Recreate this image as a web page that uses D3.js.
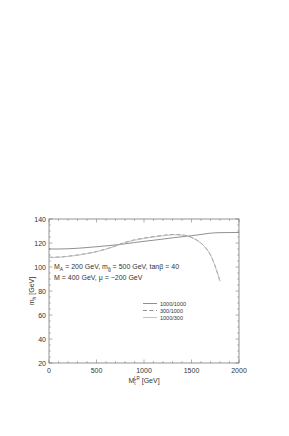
<!DOCTYPE html>
<html>
<head>
<meta charset="UTF-8">
<script src="https://cdn.jsdelivr.net/npm/d3@7"></script>
<style>
  body { margin: 0; background: #fff; }
  text { font-family: "Liberation Sans", Arial, sans-serif; fill: #333; }
</style>
</head>
<body>
<script>
// stop mixing parameter M_t^LR [GeV]
var xFull = [0,100,200,300,400,500,600,700,800,900,1000,1100,1200,1300,1400,1500,1600,1700,1800,1900,2000];
var xCut  = [0,100,200,300,400,500,600,700,800,900,1000,1100,1200,1300,1350,1400,1450,1500,1550,1600,1650,1700,1750,1800];
// m_h [GeV]
var mh1000_1000 = [115,115,115.2,115.6,116.2,116.9,117.6,118.4,119.3,120.4,121.4,122.3,123.3,124.3,125.2,126.1,127.1,128.2,128.6,128.7,128.8];
var mh300_1000  = [108.1,108.3,109,110,111.3,112.9,115,117.6,120.5,122.6,124.1,125.3,126.3,127.1,127.1,126.8,126.1,124.7,122.7,120,116,110,100.5,88];
var mh1000_300  = [107.9,108.1,108.8,109.8,111.1,112.7,114.8,117.4,120.2,122.3,123.8,125,126,126.8,126.8,126.5,125.8,124.5,122.5,119.8,115.8,109.8,100.3,88];
var yTicks = [20,40,60,80,100,120,140];
var xTicks = [0,500,1000,1500,2000];
var legendNames = ["1000/1000","300/1000","1000/300"];

var W = 289, H = 436;
var svg = d3.select("body").append("svg").attr("width", W).attr("height", H);
var pL = 49, pR = 239, pT = 219, pB = 363;

var x = d3.scaleLinear().domain([0,2000]).range([pL, pR]);
var y = d3.scaleLinear().domain([20,140]).range([pB, pT]);

var axisColor = "#666";
// frame
svg.append("rect").attr("x", pL).attr("y", pT).attr("width", pR-pL).attr("height", pB-pT)
   .attr("fill", "none").attr("stroke", axisColor).attr("stroke-width", 0.7);

// ticks (inward, mirrored)
var g = svg.append("g").attr("stroke", axisColor).attr("stroke-width", 0.5);
d3.range(0, 2001, 100).forEach(function(v){
    var len = v % 500 === 0 ? 3.5 : 1.8;
    g.append("line").attr("x1", x(v)).attr("x2", x(v)).attr("y1", pB).attr("y2", pB-len);
    g.append("line").attr("x1", x(v)).attr("x2", x(v)).attr("y1", pT).attr("y2", pT+len);
});
d3.range(20, 141, 5).forEach(function(v){
    var len = v % 20 === 0 ? 3.5 : 1.8;
    g.append("line").attr("y1", y(v)).attr("y2", y(v)).attr("x1", pL).attr("x2", pL+len);
    g.append("line").attr("y1", y(v)).attr("y2", y(v)).attr("x1", pR).attr("x2", pR-len);
});

svg.selectAll(".yl").data(yTicks).enter().append("text")
   .attr("x", pL-3).attr("y", function(d){ return y(d)+2.5; })
   .attr("text-anchor","end").attr("font-size", 7).text(function(d){ return d; });
svg.selectAll(".xl").data(xTicks).enter().append("text")
   .attr("x", function(d){ return x(d); }).attr("y", pB+10)
   .attr("text-anchor","middle").attr("font-size", 7).text(function(d){ return d; });

// axis titles
var yt = svg.append("text").attr("transform","translate(34,"+((pT+pB)/2)+") rotate(-90)")
   .attr("text-anchor","middle").attr("font-size", 7);
yt.append("tspan").text("m");
yt.append("tspan").attr("font-size", 5).attr("dy", 1.5).text("h");
yt.append("tspan").attr("dy", -1.5).text(" [GeV]");

var xt = svg.append("text").attr("x", (pL+pR)/2).attr("y", pB+20)
   .attr("text-anchor","middle").attr("font-size", 7);
xt.append("tspan").text("M");
xt.append("tspan").attr("font-size", 4.5).attr("dy", 1.5).text("t\u0303");
xt.append("tspan").attr("font-size", 4.5).attr("dx", -1.5).attr("dy", -5).text("LR");
xt.append("tspan").attr("dy", 3.5).text(" [GeV]");

// parameter text
var t1 = svg.append("text").attr("x", 54).attr("y", 269).attr("font-size", 7);
t1.append("tspan").text("M");
t1.append("tspan").attr("font-size", 5).attr("dy", 1.5).text("A");
t1.append("tspan").attr("dy", -1.5).text(" = 200 GeV, m");
t1.append("tspan").attr("font-size", 5).attr("dy", 1.5).text("g\u0303");
t1.append("tspan").attr("dy", -1.5).text(" = 500 GeV, tan\u03B2 = 40");
svg.append("text").attr("x", 54).attr("y", 280).attr("font-size", 7)
   .text("M = 400 GeV, \u03BC = \u2212200 GeV");

// curves
var line = d3.line().curve(d3.curveMonotoneX)
   .x(function(d){ return x(d[0]); }).y(function(d){ return y(d[1]); });
var series = [
  {xs: xFull, ys: mh1000_1000, color: "#444", dash: null, w: 0.6},
  {xs: xCut, ys: mh300_1000, color: "#444", dash: "4,2.5", w: 0.6},
  {xs: xCut, ys: mh1000_300, color: "#bbb", dash: null, w: 0.9}
];
series.forEach(function(s){
  svg.append("path").datum(d3.zip(s.xs, s.ys)).attr("d", line)
     .attr("fill","none").attr("stroke", s.color).attr("stroke-width", s.w)
     .attr("stroke-dasharray", s.dash);
});

// legend
legendNames.forEach(function(name, i){
  var yy = 303.5 + i*7;
  svg.append("line").attr("x1", 143).attr("x2", 157).attr("y1", yy).attr("y2", yy)
     .attr("stroke", series[i].color).attr("stroke-width", series[i].w)
     .attr("stroke-dasharray", series[i].dash);
  svg.append("text").attr("x", 160).attr("y", yy+2).attr("font-size", 5.5).text(name);
});
</script>
</body>
</html>
